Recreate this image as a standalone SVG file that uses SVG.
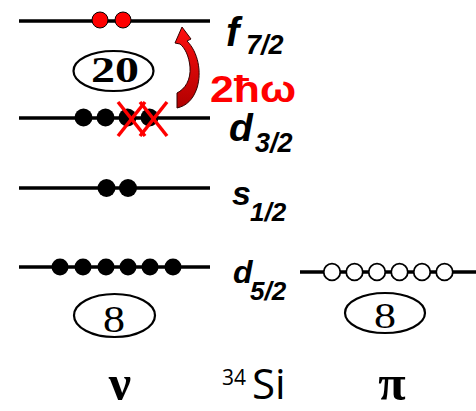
<svg xmlns="http://www.w3.org/2000/svg" width="476" height="411" viewBox="0 0 476 411">
<defs>
<linearGradient id="arrowGrad" x1="0" y1="0" x2="0" y2="1">
<stop offset="0" stop-color="#ff1010"/>
<stop offset="1" stop-color="#b00000"/>
</linearGradient>
<style>
.lvl{stroke:#000;stroke-width:3.5;fill:none}
.nb{fill:#000}
.pr{fill:#ff0000;stroke:#000;stroke-width:1}
.ho{fill:#fff;stroke:#000;stroke-width:1.8}
.ell{fill:#fff;stroke:#000;stroke-width:2.2}
.magic{font-family:"Liberation Serif","Times New Roman",serif;fill:#000;text-anchor:middle}
.lab{font-family:"Liberation Sans",Arial,sans-serif;font-weight:bold;font-style:italic;fill:#000}
.xm{stroke:#ff0000;stroke-width:3.5}
</style>
</defs>
<rect width="476" height="411" fill="#fff"/>

<g id="levels">
<line class="lvl" x1="19" y1="21" x2="210" y2="21"/>
<line class="lvl" x1="19" y1="118" x2="210" y2="118"/>
<line class="lvl" x1="19" y1="188" x2="210" y2="188"/>
<line class="lvl" x1="19" y1="267" x2="210" y2="267"/>
<line class="lvl" x1="300" y1="272" x2="476" y2="272"/>
</g>

<g id="f72">
<circle class="pr" cx="100" cy="20" r="8"/>
<circle class="pr" cx="123" cy="20" r="8"/>
<text class="lab" x="226" y="46" font-size="40">f</text>
<text class="lab" x="246" y="54" font-size="27">7/2</text>
</g>

<g id="shell20">
<ellipse class="ell" cx="113.5" cy="71" rx="40" ry="20"/>
<text class="magic" x="115" y="82" font-size="36" font-weight="bold" textLength="48" lengthAdjust="spacingAndGlyphs">20</text>
</g>

<g id="d32">
<circle class="nb" cx="83.5" cy="117.5" r="9"/>
<circle class="nb" cx="105.5" cy="117.5" r="9"/>
<circle class="nb" cx="127.5" cy="117.5" r="9"/>
<circle class="nb" cx="149.5" cy="117.5" r="9"/>
<line class="xm" x1="118" y1="102" x2="145" y2="136"/>
<line class="xm" x1="145" y1="102" x2="118" y2="136"/>
<line class="xm" x1="140" y1="102" x2="167" y2="136"/>
<line class="xm" x1="167" y1="102" x2="140" y2="136"/>
<text class="lab" x="229" y="141" font-size="39">d</text>
<text class="lab" x="255" y="152" font-size="27">3/2</text>
</g>

<g id="s12">
<circle class="nb" cx="106.5" cy="188" r="9"/>
<circle class="nb" cx="128" cy="188" r="9"/>
<text class="lab" x="232" y="205" font-size="34">s</text>
<text class="lab" x="250" y="221" font-size="26">1/2</text>
</g>

<g id="d52n">
<circle class="nb" cx="60" cy="267" r="8.5"/>
<circle class="nb" cx="83" cy="267" r="8.5"/>
<circle class="nb" cx="106" cy="267" r="8.5"/>
<circle class="nb" cx="128" cy="267" r="8.5"/>
<circle class="nb" cx="150" cy="267" r="8.5"/>
<circle class="nb" cx="173" cy="267" r="8.5"/>
<text class="lab" x="233" y="283" font-size="32">d</text>
<text class="lab" x="250" y="300" font-size="26">5/2</text>
</g>

<g id="shell8n">
<ellipse class="ell" cx="114.5" cy="315.5" rx="40.5" ry="21.5"/>
<text class="magic" x="114" y="332" font-size="37" textLength="22" lengthAdjust="spacingAndGlyphs">8</text>
</g>

<g id="d52p">
<circle class="ho" cx="332" cy="272" r="8.3"/>
<circle class="ho" cx="354.5" cy="272" r="8.3"/>
<circle class="ho" cx="377" cy="272" r="8.3"/>
<circle class="ho" cx="399.5" cy="272" r="8.3"/>
<circle class="ho" cx="422" cy="272" r="8.3"/>
<circle class="ho" cx="444.5" cy="272" r="8.3"/>
</g>

<g id="shell8p">
<ellipse class="ell" cx="385" cy="313" rx="40" ry="20"/>
<text class="magic" x="385" y="328" font-size="36" textLength="22" lengthAdjust="spacingAndGlyphs">8</text>
</g>

<g id="connectors">
<path d="M182,27 L191,39 L187,41 C198,52 202,72 197,88 C193,100 186,106 177,108 L177,93 C185,89 191,80 190,67 C189,56 185,48 180,44 L175,43 Z" fill="url(#arrowGrad)" stroke="#300" stroke-width="1"/>
</g>

<g id="labels">
<text x="210" y="102" font-family="Liberation Sans,Arial,sans-serif" font-weight="bold" font-size="36" fill="#ff0000" textLength="86" lengthAdjust="spacingAndGlyphs">2ħω</text>
<text x="120" y="400" font-family="Liberation Serif,Times New Roman,serif" font-weight="bold" font-size="50" text-anchor="middle" fill="#000">ν</text>
<text x="222" y="385" font-family="Open Sans,sans-serif" font-size="21" fill="#000">34</text>
<text x="252" y="399" font-family="Open Sans,sans-serif" font-size="42" fill="#000">Si</text>
<text x="392" y="400" font-family="Liberation Serif,Times New Roman,serif" font-weight="bold" font-size="50" text-anchor="middle" fill="#000">π</text>
</g>
</svg>
